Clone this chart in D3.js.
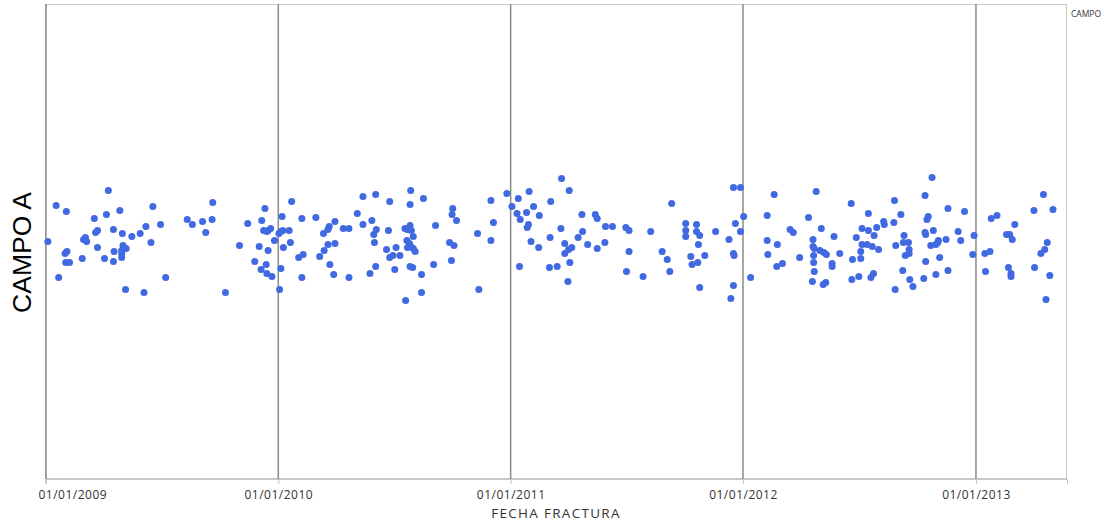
<!DOCTYPE html>
<html><head><meta charset="utf-8">
<script src="https://cdn.jsdelivr.net/npm/d3@7"></script>
<style>body{margin:0;background:#fff}</style>
</head><body><svg id="c" width="1104" height="527"></svg>
<script>
// ---- data ----
const categoria = ["CAMPO A"];
const leyenda = ["CAMPO"];
const tituloX = "FECHA FRACTURA";
const tickFechas = ["2009-01-01","2010-01-01","2011-01-01","2012-01-01","2013-01-01"];
const tickEtiquetas = ["01/01/2009","01/01/2010","01/01/2011","01/01/2012","01/01/2013"];

// day of year of each fracture, and the jitter offset of its dot
const dias2009 = [4,17,33,21,31,34,32,38,58,60,63,65,77,79,82,82,93,96,99,107,108,107,117,121,122,127,120,120,120,126,136,149,158,155,166,169,181,189,223,231,247,252,262,263,283,305,318,329,336,339,340,345,343,348,350,354,350,347,348,356,360];
const jit2009  = [0,36,30,-36,-12,-10,-21,-21,-17,2,4,0,23,9,11,-6,-17,27,51,12,-10,-20,31,8,-4,-7,-9,-12,-16,-48,5,8,15,-51,-1,35,17,-36,22,17,20,9,22,39,-51,-4,18,-20,-5,-28,21,33,11,10,11,13,-9,-23,-32,-35,1];

const dias2010 = [2,5,8,7,5,3,9,18,20,22,33,40,38,38,60,66,72,79,81,73,79,90,90,82,88,103,112,112,125,134,134,148,154,155,151,152,145,154,176,174,171,186,176,181,192,184,209,208,229,200,204,208,210,213,203,207,204,209,213,216,208,212,201,226,226,248,245,275,274,281,270,277,273,314,316,335,339,335,360];
const jit2010  = [8,10,11,25,-27,-48,-6,11,-1,40,-16,-13,23,-36,24,-15,8,12,15,-9,-3,-2,20,-23,-33,13,13,-36,28,45,17,21,47,12,7,-1,-32,-25,40,11,-8,-6,-16,-14,-14,-28,51,37,43,13,12,16,11,5,1,-2,-6,-5,-7,-10,-25,-26,-59,-33,-51,16,-23,33,27,21,-1,-4,-19,8,-48,41,19,1,48];

const dias2011 = [3,13,30,11,16,26,37,46,29,27,33,45,15,81,93,64,63,80,62,74,86,86,92,97,94,91,107,114,113,122,134,137,137,149,150,161,182,187,187,183,209,221,254,239,247,251,276,276,276,293,293,298,296,284,286,295,306,298,323,351,362,344,354,362,351,352,351,347];
const jit2011  = [35,43,50,28,22,29,35,26,17,14,0,-6,-25,63,51,40,4,13,-26,-25,-2,-12,-8,-6,-21,-40,4,10,27,-3,27,23,-7,-1,15,15,14,11,-10,-30,-35,10,38,-10,-18,-30,18,11,5,17,10,6,-3,-15,-23,-21,-14,-46,10,54,54,2,18,10,-12,-14,-44,-57];

const dias2012 = [2,13,50,39,39,40,55,54,63,75,80,90,104,116,124,111,111,113,122,128,132,112,112,113,110,127,131,141,141,144,153,171,179,173,172,183,188,198,198,186,186,188,196,204,214,202,206,207,211,222,223,239,238,249,254,241,253,261,262,262,256,252,263,268,240,298,287,290,292,287,288,300,296,304,308,307,320,310,288,285,304,323,323,349,339,343,364,362];
const jit2012  = [25,-36,47,26,1,-13,-3,-25,-22,12,9,-16,24,50,13,2,-5,-7,-9,-11,-13,-14,-21,-30,-40,-43,-41,-22,-25,5,-12,38,4,-18,-38,-35,13,11,28,-10,-17,-3,-3,-5,-8,-36,-32,6,14,20,17,41,19,27,6,-4,-1,-1,-8,-12,-14,-29,-38,-45,-48,64,46,22,25,9,7,11,-4,-3,1,-1,2,-16,-20,-37,-33,-29,33,30,10,1,6,-13];

const dias2013 = [25,34,15,23,16,62,49,54,58,52,56,56,107,92,122,113,109,103,93,117,111];
const jit2013  = [23,26,-12,-10,-30,17,7,7,2,-26,-32,-35,47,31,32,-1,-8,-12,-26,-34,-58];

const porAnio = [
  [2009, dias2009, jit2009],
  [2010, dias2010, jit2010],
  [2011, dias2011, jit2011],
  [2012, dias2012, jit2012],
  [2013, dias2013, jit2013]
];

// ---- build ----
const puntos = [];
porAnio.forEach(([anio, dias, jit]) => {
  dias.forEach((d, i) => puntos.push({fecha: new Date(anio, 0, d), jitter: jit[i], campo: categoria[0]}));
});

const svg = d3.select("#c");
const L = 45, R = 1067, T = 4, B = 479;

const x = d3.scaleTime()
  .domain([new Date(2008, 11, 30, 12), new Date(2013, 4, 24)])
  .range([L, R]);
const y = d3.scaleLinear().domain([-237.5, 237.5]).range([B, T]);

const parse = d3.timeParse("%Y-%m-%d");
const ticks = tickFechas.map(parse);

// frame
svg.append("rect")
  .attr("x", L + 0.5).attr("y", T + 0.5)
  .attr("width", R - L - 1).attr("height", B - T - 1)
  .attr("fill", "none").attr("stroke", "#c8c8c8").attr("stroke-width", 1);

// year reference lines
svg.append("g").selectAll("line").data(ticks).join("line")
  .attr("x1", d => x(d)).attr("x2", d => x(d))
  .attr("y1", T).attr("y2", B)
  .attr("stroke", "#8a8a8a").attr("stroke-width", 1.5);

// x axis
const ax = svg.append("g").attr("transform", `translate(0,${B})`)
  .call(d3.axisBottom(x).tickValues(ticks).tickSize(5).tickPadding(6)
        .tickFormat((d, i) => tickEtiquetas[i]));
ax.select(".domain").attr("stroke", "#c8c8c8");
ax.selectAll(".tick line").attr("stroke", "#c8c8c8");
ax.selectAll(".tick text")
  .attr("font-family", "'Open Sans', sans-serif").attr("font-size", 12)
  .attr("letter-spacing", "0.5px")
  .attr("fill", "#333");
// first label is kept inside the plot's left edge
ax.selectAll(".tick text").filter((d, i) => i === 0)
  .attr("text-anchor", "start").attr("x", -8);

// dots
svg.append("g").selectAll("circle").data(puntos).join("circle")
  .attr("cx", d => x(d.fecha))
  .attr("cy", d => y(d.jitter))
  .attr("r", 3.5)
  .attr("fill", "#4169E1");

// x title
svg.append("text")
  .attr("x", (L + R) / 2).attr("y", 518)
  .attr("text-anchor", "middle")
  .attr("font-family", "'Open Sans', sans-serif").attr("font-size", 13.5)
  .attr("letter-spacing", "1.3px")
  .attr("fill", "#333")
  .text(tituloX);

// y label
svg.append("text")
  .attr("transform", "translate(31,252.5) rotate(-90)")
  .attr("text-anchor", "middle")
  .attr("font-family", "'Liberation Sans', Arial, sans-serif").attr("font-size", 26.5)
  .attr("fill", "#000")
  .text(categoria[0]);

// legend
svg.append("text")
  .attr("x", 1071).attr("y", 17)
  .attr("font-family", "'Open Sans', sans-serif").attr("font-size", 8.5)
  .attr("fill", "#333")
  .text(leyenda[0]);
</script>
</body></html>
